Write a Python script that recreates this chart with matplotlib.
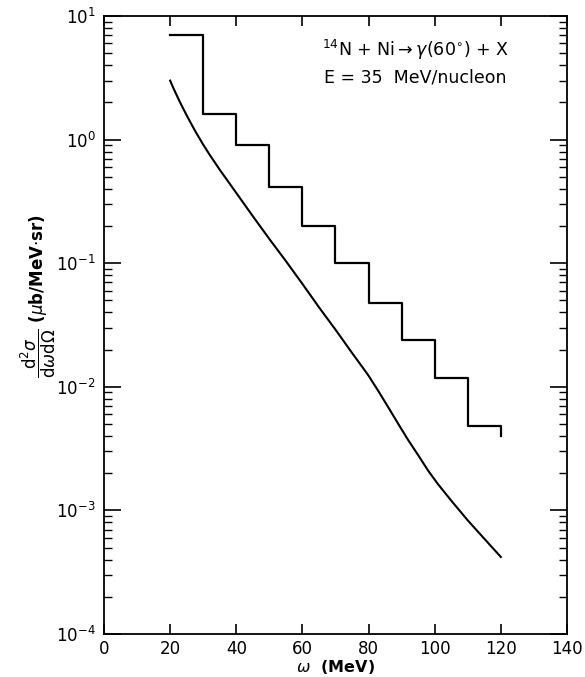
import matplotlib
matplotlib.use('Agg')
import matplotlib.pyplot as plt
from matplotlib.ticker import LogLocator, NullFormatter, FixedLocator

plt.rcParams['font.family'] = ['DejaVu Sans']
plt.rcParams['mathtext.fontset'] = 'dejavusans'

# histogram (measured) - bin edges and heights, last value is the tail drop at 120
bin_edges = [20, 30, 40, 50, 60, 70, 80, 90, 100, 110, 120]
bin_vals = [7.0, 1.6, 0.91, 0.41, 0.20, 0.10, 0.048, 0.024, 0.0117, 0.0048, 0.0040]

# calculated curve
curve_w = [20, 21, 22, 23, 24, 25, 26, 27, 28, 29, 30, 32, 35, 38, 40, 45, 50, 55, 60, 65, 70,
           75, 78, 80, 83, 86, 89, 92, 95, 98, 101, 105, 110, 115, 120]
curve_s = [3.0, 2.6, 2.28, 2.0, 1.77, 1.57, 1.40, 1.25, 1.12, 1.01, 0.91, 0.75, 0.57, 0.44,
           0.37, 0.24, 0.157, 0.104, 0.068, 0.044, 0.029, 0.0188, 0.0146, 0.0123, 0.0092, 0.0068,
           0.0050, 0.0037, 0.0028, 0.0021, 0.00163, 0.00120, 0.00083, 0.00059, 0.00042]

fig = plt.figure(figsize=(5.85, 6.77), dpi=100)
ax = fig.add_axes([0.1778, 0.0635, 0.7914, 0.9129])

ax.step(bin_edges, bin_vals, where='post', color='black', lw=1.6)
ax.plot(curve_w, curve_s, color='black', lw=1.5)

ax.set_yscale('log')
ax.set_xlim(0, 140)
ax.set_ylim(1e-4, 1e1)

ax.xaxis.set_major_locator(FixedLocator([0, 20, 40, 60, 80, 100, 120, 140]))
ax.yaxis.set_major_locator(LogLocator(base=10, numticks=10))
ax.yaxis.set_minor_locator(LogLocator(base=10, subs=range(2, 10), numticks=20))
ax.yaxis.set_minor_formatter(NullFormatter())

ax.tick_params(axis='both', which='both', direction='in', top=True, right=True, labelsize=12)
ax.tick_params(axis='y', which='major', length=12, width=1.2, pad=6)
ax.tick_params(axis='y', which='minor', length=6, width=1)
ax.tick_params(axis='x', which='major', length=7, width=1.2, pad=4)
for s in ax.spines.values():
    s.set_linewidth(1.3)

ax.set_xlabel(r'$\omega$  (MeV)', fontsize=11.5, fontweight='bold', labelpad=0)
ax.set_ylabel(r'$\dfrac{\mathrm{d}^2\sigma}{\mathrm{d}\omega \mathrm{d}\Omega}$ ($\mu$b/MeV$\cdot$sr)',
              fontsize=12, fontweight='bold')
ax.yaxis.set_label_coords(-0.10, 0.547)

ax.text(0.47, 0.945, r'$^{14}$N + Ni$\rightarrow\gamma$(60$^{\circ}$) + X', transform=ax.transAxes,
        fontsize=12.5, ha='left', va='center')
ax.text(0.475, 0.9, 'E = 35  MeV/nucleon', transform=ax.transAxes,
        fontsize=12.5, ha='left', va='center')

fig.savefig('out.png', dpi=100)
